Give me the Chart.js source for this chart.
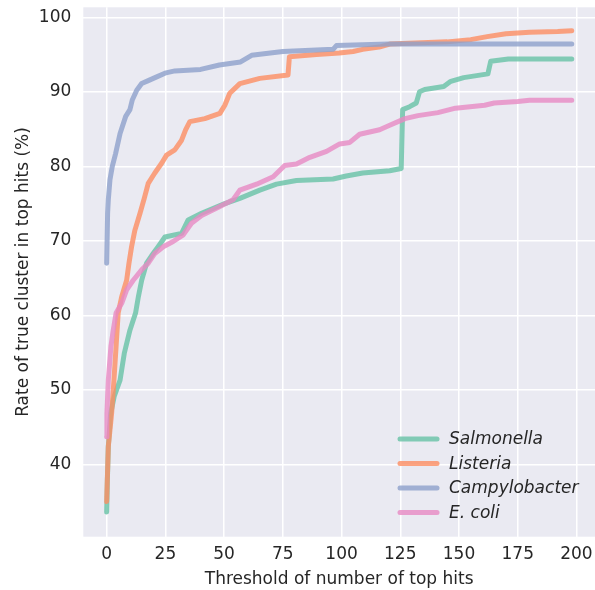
<!DOCTYPE html>
<html>
<head>
<meta charset="utf-8">
<script src="https://cdn.jsdelivr.net/npm/chart.js@4/dist/chart.umd.min.js"></script>
<style>
  html, body { margin: 0; padding: 0; background: #fff; }
  #wrap { width: 595px; height: 590px; }
</style>
</head>
<body>
<div id="wrap"><canvas id="rateChart" width="595" height="590"></canvas></div>
<script>
// series names and colours (seaborn Set2)
const seriesNames = ['Salmonella', 'Listeria', 'Campylobacter', 'E. coli'];
const seriesColors = ['102,194,165', '252,141,98', '141,160,203', '231,138,195'];

// axis ticks
const xTicks = [0, 25, 50, 75, 100, 125, 150, 175, 200];
const yTicks = [40, 50, 60, 70, 80, 90, 100];

// values: threshold (top hits) and rate (%)
const salmonellaHits = [0, 0.3, 0.7, 1.7, 3.2, 5.7, 7.5, 9.9, 12.3, 13.5, 14.9, 17, 19.8, 21.9, 24.8, 31.9, 34.7, 40.4, 50.3, 56.7, 65.2, 72.3, 80.8, 96.4, 102, 109, 120.5, 125.4, 126, 129, 131.8, 133.2, 135.4, 143.5, 146.5, 152, 162.3, 163.5, 171, 198];
const salmonellaRate = [33.6, 37.9, 42.4, 46.8, 49.1, 51.3, 54.9, 58.0, 60.3, 62.5, 64.7, 67.0, 68.3, 69.2, 70.5, 71.0, 72.8, 73.7, 75.0, 75.7, 76.8, 77.6, 78.1, 78.3, 78.7, 79.1, 79.4, 79.7, 87.6, 88.0, 88.5, 90.0, 90.3, 90.7, 91.4, 91.9, 92.4, 94.1, 94.4, 94.4];

const listeriaHits = [0, 0.7, 2.1, 3.1, 4.0, 4.9, 6.4, 8.5, 9.5, 10.6, 12.0, 14.2, 16, 17.7, 20.5, 23.4, 25.5, 29, 31.9, 33.6, 35.4, 41.8, 48.2, 50.3, 52.4, 56.7, 65.2, 77.2, 77.8, 89.3, 99, 104.9, 109, 116, 120.5, 145, 155, 162, 170, 180, 192, 198];
const listeriaRate = [35.0, 42.4, 46.8, 51.3, 55.8, 60.3, 62.5, 64.7, 67.0, 69.2, 71.4, 73.7, 75.7, 77.7, 79.1, 80.4, 81.5, 82.2, 83.5, 84.9, 86.0, 86.4, 87.1, 88.2, 89.8, 91.1, 91.8, 92.25, 94.7, 95.0, 95.2, 95.4, 95.7, 96.0, 96.4, 96.7, 97.0, 97.4, 97.8, 98.0, 98.1, 98.2];

const campyHits = [0, 0.4, 0.7, 1.4, 2.4, 3.8, 5.7, 8.1, 9.9, 10.9, 12.8, 14.9, 17.7, 21.3, 24.8, 29, 40, 48, 57, 61.7, 75, 96.4, 97.8, 120, 198];
const campyRate = [67.0, 73.7, 75.5, 78.2, 80.0, 81.7, 84.4, 86.7, 87.6, 88.9, 90.2, 91.1, 91.5, 92.0, 92.5, 92.8, 93.0, 93.6, 94.0, 94.9, 95.4, 95.7, 96.2, 96.4, 96.4];

const ecoliHits = [0, 0.1, 0.7, 1.8, 2.8, 4.0, 6.4, 8.5, 11.3, 14.9, 17.7, 20.5, 24.1, 28.3, 32.6, 36.1, 40.4, 48.2, 53.8, 56.7, 63.8, 70.9, 75.8, 80.8, 86.5, 93.6, 99.2, 103.5, 107.7, 116.2, 120.5, 127, 132.5, 141, 148.5, 160.9, 165, 175, 180, 198];
const ecoliRate = [43.7, 46.8, 51.3, 55.8, 58.0, 60.3, 61.6, 63.4, 64.7, 66.1, 67.0, 68.3, 69.2, 69.9, 70.8, 72.35, 73.4, 74.6, 75.5, 76.8, 77.6, 78.6, 80.1, 80.3, 81.2, 82.0, 83.0, 83.2, 84.3, 84.9, 85.5, 86.4, 86.8, 87.2, 87.8, 88.2, 88.5, 88.7, 88.85, 88.85];

const allHits = [salmonellaHits, listeriaHits, campyHits, ecoliHits];
const allRates = [salmonellaRate, listeriaRate, campyRate, ecoliRate];

const FONT = 'DejaVu Sans';
const FONT_SIZE = 17;
const TEXT = '#262626';

// seaborn-like axes background
const axesBackground = {
  id: 'axesBackground',
  beforeDraw(chart) {
    const { ctx, chartArea: a } = chart;
    ctx.save();
    ctx.fillStyle = '#eaeaf2';
    ctx.fillRect(a.left, a.top, a.right - a.left, a.bottom - a.top);
    ctx.restore();
  },
};

// legend in the lower right corner of the plot
const insideLegend = {
  id: 'insideLegend',
  afterDraw(chart) {
    const { ctx, chartArea: a } = chart;
    ctx.save();
    ctx.font = 'italic ' + FONT_SIZE + 'px "' + FONT + '"';
    ctx.textBaseline = 'middle';
    seriesNames.forEach((name, i) => {
      const y = a.bottom - 97.7 + i * 24.5;
      ctx.strokeStyle = 'rgba(' + seriesColors[i] + ',0.8)';
      ctx.lineWidth = 5;
      ctx.lineCap = 'round';
      ctx.beginPath();
      ctx.moveTo(a.right - 195, y);
      ctx.lineTo(a.right - 158, y);
      ctx.stroke();
      ctx.fillStyle = TEXT;
      ctx.fillText(name, a.right - 146, y + 1);
    });
    ctx.restore();
  },
};

// keep tick labels from shrinking the plot area
const noScalePadding = s => {
  s.paddingLeft = 0;
  s.paddingRight = 0;
  s.paddingTop = 0;
  s.paddingBottom = 0;
};

new Chart(document.getElementById('rateChart'), {
  type: 'line',
  data: {
    datasets: seriesNames.map((name, i) => ({
      label: name,
      data: allHits[i].map((x, j) => ({ x, y: allRates[i][j] })),
      borderColor: 'rgba(' + seriesColors[i] + ',0.8)',
      borderWidth: 5,
      borderCapStyle: 'round',
      borderJoinStyle: 'round',
      pointRadius: 0,
      tension: 0,
      fill: false,
      order: seriesNames.length - i,
    })),
  },
  options: {
    responsive: false,
    animation: false,
    devicePixelRatio: 1,
    layout: { padding: { top: 7.3, right: 0, left: 0, bottom: 0 } },
    plugins: { legend: { display: false }, tooltip: { enabled: false } },
    scales: {
      x: {
        type: 'linear',
        min: -9.95,
        max: 207.9,
        afterBuildTicks: s => { s.ticks = xTicks.map(v => ({ value: v })); },
        afterFit: s => { s.height = 53.3; noScalePadding(s); },
        grid: { color: '#ffffff', lineWidth: 1.5, drawTicks: false },
        border: { display: false },
        ticks: { color: TEXT, font: { family: FONT, size: FONT_SIZE }, padding: 8, maxRotation: 0 },
        title: {
          display: true,
          text: 'Threshold of number of top hits',
          color: TEXT,
          font: { family: FONT, size: FONT_SIZE },
          padding: { top: 0, bottom: 0 },
        },
      },
      y: {
        type: 'linear',
        min: 30.28,
        max: 101.34,
        afterBuildTicks: s => { s.ticks = yTicks.map(v => ({ value: v })); },
        afterFit: s => { s.width = 83.3; noScalePadding(s); },
        grid: { color: '#ffffff', lineWidth: 1.5, drawTicks: false },
        border: { display: false },
        ticks: { color: TEXT, font: { family: FONT, size: FONT_SIZE }, padding: 12 },
        title: {
          display: true,
          text: 'Rate of true cluster in top hits (%)',
          color: TEXT,
          font: { family: FONT, size: FONT_SIZE },
          padding: { top: 13.5, bottom: 0 },
        },
      },
    },
  },
  plugins: [axesBackground, insideLegend],
});
</script>
</body>
</html>
